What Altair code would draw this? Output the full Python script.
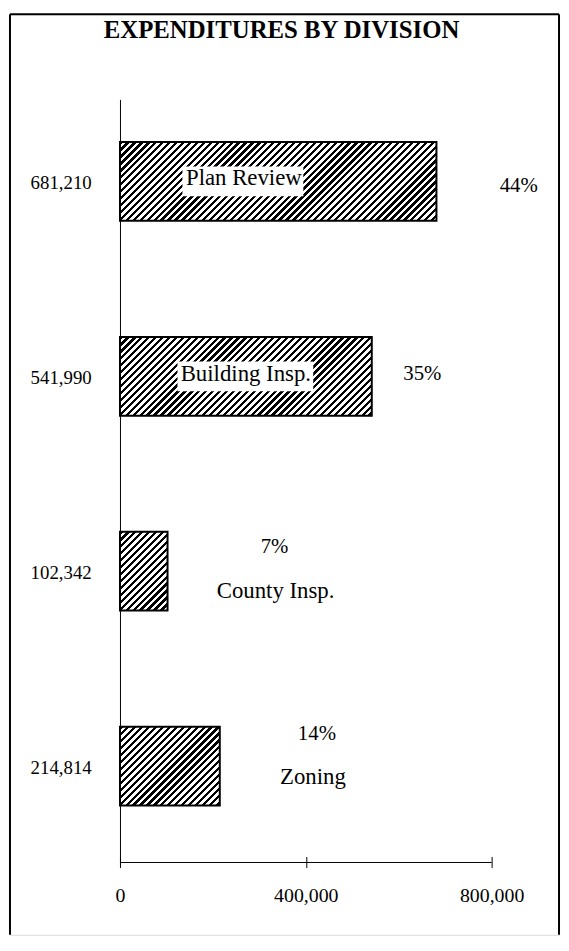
import altair as alt
import pandas as pd

# ---------------- data ----------------
divisions = ["Plan Review", "Building Insp.", "County Insp.", "Zoning"]
values = [681210, 541990, 102342, 214814]
percents = [44, 35, 7, 14]
x_ticks = [0, 400000, 800000]
title_text = "EXPENDITURES BY DIVISION"

value_labels = [f"{v:,}" for v in values]
pct_labels = [f"{p}%" for p in percents]

df = pd.DataFrame({
    "division": divisions,
    "value": values,
    "label": value_labels,
    "pct": pct_labels,
})

# ---------------- layout / style ----------------
FONT = "Liberation Serif"
W, H = 554, 929
X_RANGE = [111, 486]
Y_RANGE = [86, 856]
AXIS_Y = 850            # where the tick group starts (ticks cross the baseline)
PAD_IN, PAD_OUT, ALIGN = 0.596, 0.2555, 0.428
X_MAX = 800000

step = (Y_RANGE[1] - Y_RANGE[0]) / (len(divisions) - PAD_IN + 2 * PAD_OUT)
BAND = step * (1 - PAD_IN)

# label placement: (anchor, dx, dy); anchor "zero" = axis, "end" = bar end
LAYOUT = {
    "Plan Review": {"box": (63, 185), "name": ("zero", 125, -3), "pct": ("end", 83, 5)},
    "Building Insp.": {"box": (58, 195), "name": ("zero", 127, -2), "pct": ("end", 51, -2)},
    "County Insp.": {"name": ("end", 109, 20), "pct": ("end", 108, -24)},
    "Zoning": {"name": ("end", 94, 11), "pct": ("end", 98, -32)},
}

x_scale = alt.Scale(domain=[0, X_MAX], range=X_RANGE, nice=False, zero=True)
y_scale = alt.Scale(domain=value_labels, range=Y_RANGE, paddingInner=PAD_IN,
                    paddingOuter=PAD_OUT, align=ALIGN)

x_axis = alt.Axis(values=x_ticks, format=",d", title=None, orient="bottom",
                  offset=AXIS_Y - H, domain=False, ticks=True,
                  tickSize=11, tickColor="black", tickWidth=1, grid=False,
                  labelFont=FONT, labelFontSize=20, labelColor="black",
                  labelPadding=18, labelFlush=False)
y_axis = alt.Axis(title=None, orient="left", offset=-X_RANGE[0], domain=True,
                  domainColor="black", domainWidth=1, ticks=False, grid=False,
                  labelFont=FONT, labelFontSize=19, labelColor="black",
                  labelPadding=29, labelOffset=2)


def hatch(w, h, period=7.0, frac=0.47):
    L = w + h
    t = L / (w * w + h * h)
    stops = []
    k = 0
    while k * period < L:
        s0 = k * period / L
        s1 = min((k * period + frac * period) / L, 1.0)
        s2 = min((k + 1) * period / L, 1.0)
        stops += [
            {"offset": s0, "color": "black"},
            {"offset": s1, "color": "black"},
            {"offset": s1, "color": "white"},
            {"offset": s2, "color": "white"},
        ]
        k += 1
    return {"gradient": "linear", "x1": 0, "y1": 0, "x2": t * w, "y2": t * h,
            "stops": stops}


Y = alt.Y("label:N", scale=y_scale, axis=y_axis, sort=value_labels)
one = pd.DataFrame({"a": [0]})

layers = []

# outer frame (left, right, top) and heading
frame = alt.Chart(one).mark_rule(color="black", strokeWidth=2)
layers.append(frame.encode(x=alt.value(0), y=alt.value(0), y2=alt.value(H)))
layers.append(frame.encode(x=alt.value(W), y=alt.value(0), y2=alt.value(H)))
layers.append(frame.encode(x=alt.value(0), x2=alt.value(W), y=alt.value(0)))
layers.append(
    alt.Chart(one).mark_text(text=title_text, font=FONT, fontSize=25,
                             fontWeight="bold", color="black", align="center",
                             baseline="alphabetic")
    .encode(x=alt.value(W / 2 - 3), y=alt.value(24))
)

for i, d in enumerate(divisions):
    base = alt.Chart(df).transform_filter(alt.datum.division == d)
    w_px = values[i] / X_MAX * (X_RANGE[1] - X_RANGE[0])
    layers.append(
        base.mark_bar(fill=hatch(w_px, BAND), stroke="black", strokeWidth=2)
        .encode(x=alt.X("value:Q", scale=x_scale, axis=x_axis), y=Y)
    )
    lay = LAYOUT[d]
    if "box" in lay:
        x0, x1 = lay["box"]
        layers.append(
            base.mark_bar(fill="white", size=30, xOffset=x0, x2Offset=x1)
            .encode(x=alt.XDatum(0, scale=x_scale, axis=x_axis),
                    x2=alt.X2Datum(0), y=Y)
        )
    for key, field, fs in (("name", "division", 23), ("pct", "pct", 21)):
        anchor, dx, dy = lay[key]
        xenc = (alt.XDatum(0, scale=x_scale, axis=x_axis) if anchor == "zero"
                else alt.X("value:Q", scale=x_scale, axis=x_axis))
        layers.append(
            base.mark_text(font=FONT, fontSize=fs, color="black", align="center",
                           baseline="middle", dx=dx, dy=dy)
            .encode(x=xenc, y=Y, text=f"{field}:N")
        )

# x-axis baseline
layers.append(
    alt.Chart(one)
    .mark_rule(color="black", strokeWidth=1)
    .encode(x=alt.XDatum(0, scale=x_scale, axis=x_axis),
            x2=alt.X2Datum(X_MAX), y=alt.value(Y_RANGE[1]))
)

chart = (
    alt.layer(*layers)
    .properties(width=W, height=H, padding=1)
    .configure_view(strokeWidth=0)
    .configure(background="white")
)

chart.save("out.html", embed_options={"renderer": "svg", "actions": False})
